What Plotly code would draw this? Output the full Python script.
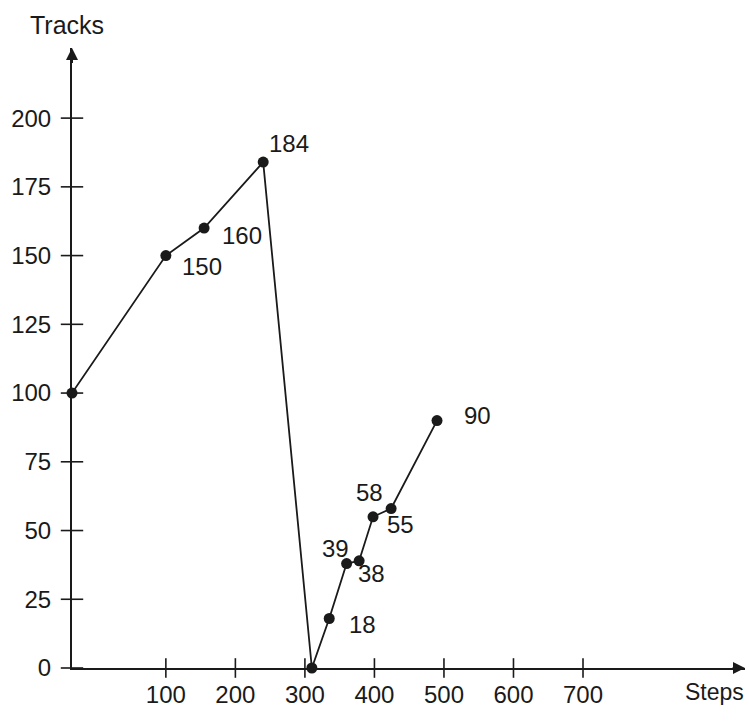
import plotly.graph_objects as go

# Head movement: steps travelled (x) and track visited (y)
steps = [-35, 100, 155, 240, 310, 335, 360, 378, 398, 424, 490]
tracks = [100, 150, 160, 184, 0, 18, 38, 39, 55, 58, 90]
point_labels = ["", "150", "160", "184", "", "18", "38", "39", "55", "58", "90"]

x_ticks = [100, 200, 300, 400, 500, 600, 700]
y_ticks = [0, 25, 50, 75, 100, 125, 150, 175, 200]

# label offsets (px) relative to each point
label_dx = [0, 36, 38, 26, 0, 33, 25, -24, 27, -22, 40]
label_dy = [0, -11, -7, 19, 0, -6, -10, 12, -8, 16, 5]

FONT = "Liberation Sans, Arial, sans-serif"
INK = "#1a1a1a"
X0, X1 = -35, 933
Y0, Y1 = 0, 225.5

fig = go.Figure()

# tick marks that cross the axis lines
fig.add_trace(go.Scatter(
    x=[X0] * len(y_ticks), y=y_ticks, mode="markers", cliponaxis=False,
    marker=dict(symbol="line-ew", size=16, line=dict(color=INK, width=1.6)),
    hoverinfo="skip", showlegend=False,
))
fig.add_trace(go.Scatter(
    x=x_ticks, y=[Y0] * len(x_ticks), mode="markers", cliponaxis=False,
    marker=dict(symbol="line-ns", size=14, line=dict(color=INK, width=1.6)),
    hoverinfo="skip", showlegend=False,
))

fig.add_trace(go.Scatter(
    x=steps, y=tracks, mode="lines+markers", cliponaxis=False,
    line=dict(color=INK, width=1.8),
    marker=dict(color=INK, size=11),
    hoverinfo="x+y", showlegend=False,
))

for x, y, t, dx, dy in zip(steps, tracks, point_labels, label_dx, label_dy):
    if t:
        fig.add_annotation(x=x, y=y, text=t, showarrow=False,
                           xshift=dx, yshift=dy,
                           font=dict(family=FONT, size=24, color=INK))

# arrow heads on both axes
fig.add_annotation(x=X0, y=Y1, ax=X0, ay=Y1 - 6, xref="x", yref="y",
                   axref="x", ayref="y", showarrow=True, arrowhead=2,
                   arrowsize=1.2, arrowwidth=2, arrowcolor=INK, text="")
fig.add_annotation(x=X1, y=Y0, ax=X1 - 20, ay=Y0, xref="x", yref="y",
                   axref="x", ayref="y", showarrow=True, arrowhead=2,
                   arrowsize=1.2, arrowwidth=2, arrowcolor=INK, text="")

# axis names
fig.add_annotation(x=-0.007, y=1.037, xref="paper", yref="paper", text="Tracks",
                   xanchor="center", yanchor="middle", showarrow=False,
                   font=dict(family=FONT, size=25, color=INK))
fig.add_annotation(x=0.955, y=-0.039, xref="paper", yref="paper", text="Steps",
                   xanchor="center", yanchor="middle", showarrow=False,
                   font=dict(family=FONT, size=23, color=INK))

fig.update_layout(
    width=749, height=722,
    margin=dict(l=72, r=4, t=48, b=54),
    paper_bgcolor="white", plot_bgcolor="white",
    font=dict(family=FONT, size=24, color=INK),
    xaxis=dict(range=[X0, X1], showgrid=False, zeroline=False,
               showline=True, linecolor=INK, linewidth=2,
               tickvals=x_ticks, ticks="outside", ticklen=4,
               tickcolor="rgba(0,0,0,0)", tickfont=dict(size=24)),
    yaxis=dict(range=[Y0, Y1], showgrid=False, zeroline=False,
               showline=True, linecolor=INK, linewidth=2,
               tickvals=y_ticks, ticks="outside", ticklen=14,
               tickcolor="rgba(0,0,0,0)", tickfont=dict(size=24)),
)

fig.write_html("out.html")
